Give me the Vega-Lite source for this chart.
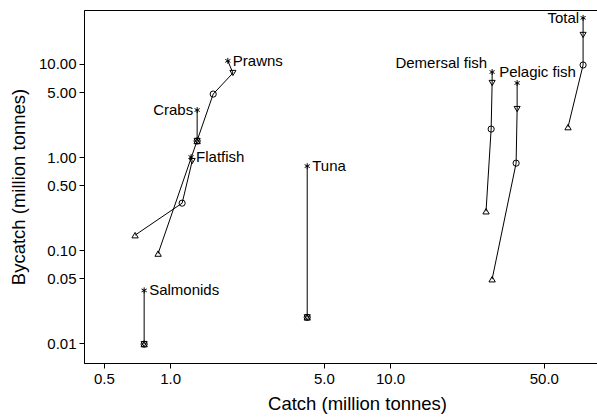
{
  "$schema": "https://vega.github.io/schema/vega-lite/v6.json",
  "autosize": "none",
  "width": 546,
  "height": 353,
  "padding": {"left": 84, "top": 10, "right": 0, "bottom": 54},
  "background": "white",
  "config": {
    "font": "Liberation Sans",
    "view": {"stroke": "black", "strokeWidth": 1},
    "axis": {"grid": false, "domainColor": "black", "tickColor": "black", "labelColor": "black", "titleColor": "black", "labelFont": "Liberation Sans", "titleFont": "Liberation Sans", "labelFontSize": 15, "titleFontSize": 18.5, "titleFontWeight": "normal", "tickSize": 5, "domainWidth": 1, "tickWidth": 1}
  },
  "data": {
    "values": [
      {"group": "Prawns", "stage": "a", "ord": 1, "catch": 0.882, "bycatch": 0.092},
      {"group": "Prawns", "stage": "b", "ord": 2, "catch": 1.57, "bycatch": 4.75},
      {"group": "Prawns", "stage": "c", "ord": 3, "catch": 1.93, "bycatch": 8.0},
      {"group": "Prawns", "stage": "d", "ord": 4, "catch": 1.83, "bycatch": 10.8},
      {"group": "Flatfish", "stage": "a", "ord": 1, "catch": 0.693, "bycatch": 0.145},
      {"group": "Flatfish", "stage": "b", "ord": 2, "catch": 1.134, "bycatch": 0.32},
      {"group": "Flatfish", "stage": "c", "ord": 3, "catch": 1.26, "bycatch": 0.906},
      {"group": "Flatfish", "stage": "d", "ord": 4, "catch": 1.245, "bycatch": 1.0},
      {"group": "Crabs", "stage": "a", "ord": 1, "catch": 1.327, "bycatch": 1.49},
      {"group": "Crabs", "stage": "b", "ord": 2, "catch": 1.327, "bycatch": 1.49},
      {"group": "Crabs", "stage": "c", "ord": 3, "catch": 1.327, "bycatch": 1.49},
      {"group": "Crabs", "stage": "d", "ord": 4, "catch": 1.327, "bycatch": 3.2},
      {"group": "Tuna", "stage": "a", "ord": 1, "catch": 4.2, "bycatch": 0.019},
      {"group": "Tuna", "stage": "b", "ord": 2, "catch": 4.2, "bycatch": 0.019},
      {"group": "Tuna", "stage": "c", "ord": 3, "catch": 4.2, "bycatch": 0.019},
      {"group": "Tuna", "stage": "d", "ord": 4, "catch": 4.2, "bycatch": 0.8},
      {"group": "Salmonids", "stage": "a", "ord": 1, "catch": 0.762, "bycatch": 0.0098},
      {"group": "Salmonids", "stage": "b", "ord": 2, "catch": 0.762, "bycatch": 0.0098},
      {"group": "Salmonids", "stage": "c", "ord": 3, "catch": 0.762, "bycatch": 0.0098},
      {"group": "Salmonids", "stage": "d", "ord": 4, "catch": 0.762, "bycatch": 0.037},
      {"group": "Demersal fish", "stage": "a", "ord": 1, "catch": 27.3, "bycatch": 0.262},
      {"group": "Demersal fish", "stage": "b", "ord": 2, "catch": 28.8, "bycatch": 2.0},
      {"group": "Demersal fish", "stage": "c", "ord": 3, "catch": 29.1, "bycatch": 6.25},
      {"group": "Demersal fish", "stage": "d", "ord": 4, "catch": 29.1, "bycatch": 8.2},
      {"group": "Pelagic fish", "stage": "a", "ord": 1, "catch": 29.1, "bycatch": 0.0488},
      {"group": "Pelagic fish", "stage": "b", "ord": 2, "catch": 37.4, "bycatch": 0.86},
      {"group": "Pelagic fish", "stage": "c", "ord": 3, "catch": 37.8, "bycatch": 3.28},
      {"group": "Pelagic fish", "stage": "d", "ord": 4, "catch": 37.8, "bycatch": 6.25},
      {"group": "Total", "stage": "a", "ord": 1, "catch": 64.4, "bycatch": 2.1},
      {"group": "Total", "stage": "b", "ord": 2, "catch": 75.4, "bycatch": 9.75},
      {"group": "Total", "stage": "c", "ord": 3, "catch": 75.4, "bycatch": 20.5},
      {"group": "Total", "stage": "d", "ord": 4, "catch": 75.4, "bycatch": 31.3}
    ]
  },
  "encoding": {
    "x": {"field": "catch", "type": "quantitative", "scale": {"type": "log", "domain": [0.406, 123.2], "nice": false, "zero": false},
      "axis": {"title": "Catch (million tonnes)", "values": [0.5, 1, 5, 10, 50], "format": ".1f", "labelPadding": 3, "titlePadding": 8}},
    "y": {"field": "bycatch", "type": "quantitative", "scale": {"type": "log", "domain": [0.00614, 38], "nice": false, "zero": false},
      "axis": {"title": "Bycatch (million tonnes)", "values": [0.01, 0.05, 0.1, 0.5, 1, 5, 10], "format": ".2f", "labelPadding": 3, "titlePadding": 10}}
  },
  "layer": [
    {
      "mark": {"type": "line", "color": "black", "strokeWidth": 1},
      "encoding": {"detail": {"field": "group"}, "order": {"field": "ord", "type": "quantitative"}}
    },
    {
      "mark": {"type": "point", "filled": false, "color": "black", "strokeWidth": 1, "opacity": 1},
      "encoding": {
        "shape": {"field": "stage", "type": "nominal", "legend": null,
          "scale": {"domain": ["a", "b", "c", "d"], "range": ["triangle-up", "circle", "triangle-down", "M0,-1L0,1M-0.866,-0.5L0.866,0.5M-0.866,0.5L0.866,-0.5"]}},
        "size": {"field": "stage", "type": "nominal", "legend": null,
          "scale": {"domain": ["a", "b", "c", "d"], "range": [40, 35, 40, 22]}}
      }
    },
    {
      "transform": [{"filter": {"and": [{"field": "stage", "equal": "d"}, {"field": "group", "oneOf": ["Prawns", "Flatfish", "Tuna", "Salmonids"]}]}}],
      "mark": {"type": "text", "align": "left", "baseline": "middle", "dx": 5, "dy": 0, "fontSize": 15, "color": "black"},
      "encoding": {"text": {"field": "group"}}
    },
    {
      "transform": [{"filter": {"and": [{"field": "stage", "equal": "d"}, {"field": "group", "oneOf": ["Crabs", "Total"]}]}}],
      "mark": {"type": "text", "align": "right", "baseline": "middle", "dx": -4, "dy": 0, "fontSize": 15, "color": "black"},
      "encoding": {"text": {"field": "group"}}
    },
    {
      "transform": [{"filter": {"and": [{"field": "stage", "equal": "d"}, {"field": "group", "equal": "Demersal fish"}]}}],
      "mark": {"type": "text", "align": "right", "baseline": "middle", "dx": -5, "dy": -9, "fontSize": 15, "color": "black"},
      "encoding": {"text": {"field": "group"}}
    },
    {
      "transform": [{"filter": {"and": [{"field": "stage", "equal": "d"}, {"field": "group", "equal": "Pelagic fish"}]}}],
      "mark": {"type": "text", "align": "left", "baseline": "middle", "dx": -18, "dy": -11, "fontSize": 15, "color": "black"},
      "encoding": {"text": {"field": "group"}}
    }
  ]
}
